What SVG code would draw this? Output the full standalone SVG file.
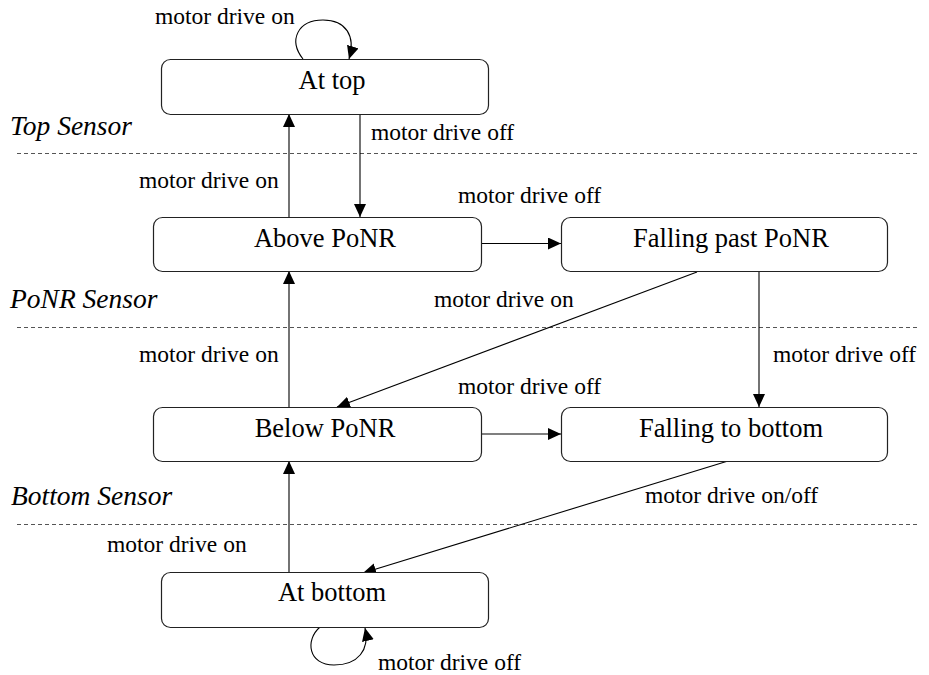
<svg xmlns="http://www.w3.org/2000/svg" width="929" height="675" viewBox="0 0 929 675">
<style>
.node rect{fill:#fff;stroke:#222;stroke-width:1.2}
text{font-family:'Liberation Serif','Times New Roman',Times,'DejaVu Serif',serif;fill:#000}
.nt{font-size:26.5px;text-anchor:middle}
.lb{font-size:23.5px}
.sn{font-size:27.5px;font-style:italic}
.dash{stroke:#555;stroke-width:1;stroke-dasharray:4 3;fill:none}
.edge{stroke:#000;stroke-width:1.1;fill:none;marker-end:url(#ah)}
</style>
<defs>
<marker id="ah" markerUnits="userSpaceOnUse" markerWidth="14" markerHeight="12" refX="13" refY="6" orient="auto">
<path d="M0,0 L13,6 L0,12 Z" fill="#000"/>
</marker>
</defs>
<rect width="929" height="675" fill="#fff"/>
<g id="sensors">
<line class="dash" x1="17" y1="153.5" x2="919" y2="153.5"/>
<line class="dash" x1="17" y1="327.5" x2="919" y2="327.5"/>
<line class="dash" x1="17" y1="524.5" x2="919" y2="524.5"/>
<text class="sn" x="10" y="135">Top Sensor</text>
<text class="sn" x="10" y="308">PoNR Sensor</text>
<text class="sn" x="11" y="505">Bottom Sensor</text>
</g>
<g id="connectors">
<path class="edge" d="M303,59 C288,40 298,20 323,20 C346,20 356,36 349,59"/>
<line class="edge" x1="289" y1="217" x2="289" y2="114"/>
<line class="edge" x1="360" y1="114" x2="360" y2="217"/>
<line class="edge" x1="481" y1="243.5" x2="561" y2="243.5"/>
<line class="edge" x1="697" y1="272" x2="337" y2="407"/>
<line class="edge" x1="759" y1="272" x2="759" y2="407"/>
<line class="edge" x1="289" y1="407" x2="289" y2="271"/>
<line class="edge" x1="481" y1="434" x2="561" y2="434"/>
<line class="edge" x1="728" y1="461" x2="363" y2="573"/>
<line class="edge" x1="289" y1="572" x2="289" y2="461"/>
<path class="edge" d="M320,627 C305,640 308,665 334,665 C358,665 370,650 365,628"/>
<text class="lb" x="155" y="24">motor drive on</text>
<text class="lb" x="371" y="140">motor drive off</text>
<text class="lb" x="139" y="188">motor drive on</text>
<text class="lb" x="458" y="203">motor drive off</text>
<text class="lb" x="434" y="307">motor drive on</text>
<text class="lb" x="773" y="362">motor drive off</text>
<text class="lb" x="139" y="362">motor drive on</text>
<text class="lb" x="458" y="394">motor drive off</text>
<text class="lb" x="645" y="503">motor drive on/off</text>
<text class="lb" x="107" y="552">motor drive on</text>
<text class="lb" x="378" y="670">motor drive off</text>
</g>
<g id="at-top" class="node"><rect x="161.5" y="59.5" width="327" height="55" rx="9"/><text class="nt" x="332" y="89">At top</text></g>
<g id="above-ponr" class="node"><rect x="153.5" y="217.5" width="328" height="54" rx="9"/><text class="nt" x="325" y="247">Above PoNR</text></g>
<g id="falling-past-ponr" class="node"><rect x="561.5" y="217.5" width="326" height="54" rx="9"/><text class="nt" x="731" y="247">Falling past PoNR</text></g>
<g id="below-ponr" class="node"><rect x="153.5" y="407.5" width="328" height="54" rx="9"/><text class="nt" x="325" y="437">Below PoNR</text></g>
<g id="falling-to-bottom" class="node"><rect x="561.5" y="407.5" width="326" height="54" rx="9"/><text class="nt" x="731" y="437">Falling to bottom</text></g>
<g id="at-bottom" class="node"><rect x="161.5" y="572.5" width="327" height="55" rx="9"/><text class="nt" x="332" y="601">At bottom</text></g>
</svg>
